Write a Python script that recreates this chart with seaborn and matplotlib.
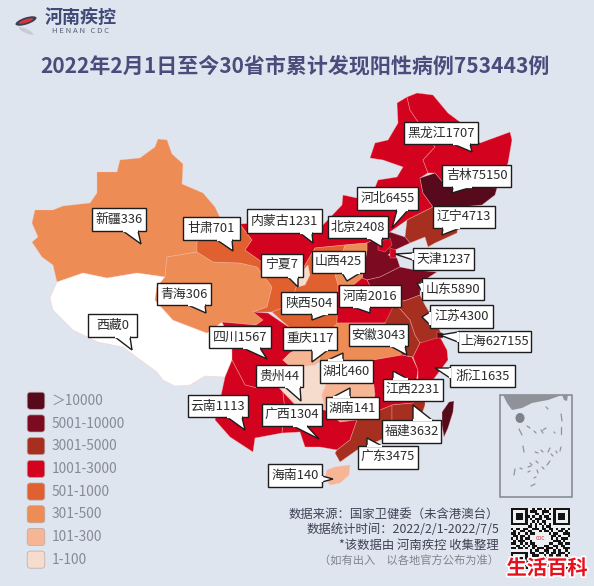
"""Mapa de casos acumulados por província (recriação do cartaz do Henan CDC)."""

import matplotlib
matplotlib.use("Agg")
import matplotlib.patheffects as pe
import matplotlib.pyplot as plt
import numpy as np
import pandas as pd
import seaborn as sns
from matplotlib.patches import Ellipse, FancyBboxPatch, Polygon

BG = "#dfe5ef"
TITLE = "2022年2月1日至今30省市累计发现阳性病例753443例"

# Dados
PROVINCES = ["新疆", "西藏", "青海", "甘肃", "内蒙古", "黑龙江", "吉林", "辽宁", "河北", "北京", "天津",
             "山西", "陕西", "宁夏", "山东", "河南", "四川", "云南", "重庆", "贵州", "湖北", "湖南",
             "广西", "广东", "江西", "福建", "安徽", "江苏", "上海", "浙江", "海南", "台湾"]
CASES = [336, 0, 306, 701, 1231, 1707, 75150, 4713, 6455, 2408, 1237,
         425, 504, 7, 5890, 2016, 1567, 1113, 117, 44, 460, 141,
         1304, 3475, 2231, 3632, 3043, 4300, 627155, 1635, 140, 20000]
BIN_EDGES = [0, 100, 300, 500, 1000, 3000, 5000, 10000, np.inf]
LEGEND_LABELS = ["＞10000", "5001-10000", "3001-5000", "1001-3000", "501-1000", "301-500", "101-300", "1-100"]
LEGEND_COLORS = ["#560a1c", "#7c0a20", "#a62f20", "#d3031f", "#e0602f", "#ee8c55", "#f6b595", "#f5dccd"]
SOURCE_LINES = ["数据来源：国家卫健委（未含港澳台）", "数据统计时间：2022/2/1-2022/7/5", "*该数据由 河南疾控 收集整理"]
NOTE_LINE = "（如有出入　以各地官方公布为准）"

# Contornos aproximados das províncias, em pixels da imagem
OUTLINES = {
    "新疆": [(35, 210), (53, 210), (63, 206), (90, 203), (97, 193), (97, 172), (117, 172), (120, 160), (140, 158),
           (155, 147), (158, 139), (167, 140), (172, 154), (183, 164), (182, 184), (203, 193), (215, 207),
           (222, 222), (197, 242), (197, 252), (167, 257), (165, 277), (137, 273), (107, 278), (83, 273),
           (57, 282), (53, 265), (42, 257), (32, 242), (38, 237), (32, 223)],
    "西藏": [(57, 282), (83, 273), (107, 278), (137, 273), (165, 277), (157, 287), (155, 300), (173, 320), (207, 333),
           (222, 322), (232, 343), (232, 360), (225, 377), (205, 376), (190, 385), (175, 386), (163, 380),
           (157, 372), (123, 347), (98, 342), (73, 330), (53, 310), (50, 298)],
    "青海": [(165, 277), (167, 257), (197, 252), (213, 262), (240, 263), (257, 267), (272, 287), (267, 307),
           (253, 312), (263, 320), (256, 325), (222, 322), (207, 333), (173, 320), (155, 300), (157, 287)],
    "甘肃": [(197, 242), (222, 222), (240, 224), (252, 240), (245, 250), (262, 262), (275, 268), (295, 275),
           (297, 285), (290, 305), (272, 312), (253, 312), (267, 307), (272, 287), (257, 267), (240, 263),
           (213, 262), (197, 252)],
    "内蒙古": [(240, 224), (270, 222), (300, 228), (320, 228), (342, 205), (343, 195), (357, 198), (372, 195),
            (378, 180), (397, 177), (403, 167), (383, 160), (370, 158), (375, 143), (388, 140), (398, 123),
            (397, 103), (407, 97), (410, 110), (435, 147), (423, 160), (428, 173), (420, 178), (423, 193),
            (433, 207), (407, 220), (390, 232), (367, 243), (345, 245), (315, 248), (305, 265), (295, 275),
            (275, 268), (262, 262), (245, 250), (252, 240)],
    "黑龙江": [(407, 97), (417, 93), (433, 95), (448, 113), (460, 122), (480, 143), (510, 132), (512, 140),
            (508, 163), (497, 188), (445, 185), (435, 173), (428, 173), (423, 160), (435, 147), (410, 110)],
    "吉林": [(420, 178), (435, 173), (445, 185), (497, 188), (495, 195), (482, 205), (460, 207), (433, 207), (423, 193)],
    "辽宁": [(407, 220), (433, 207), (460, 207), (457, 233), (435, 243), (428, 247), (425, 237), (410, 243), (405, 237)],
    "河北": [(367, 243), (390, 232), (405, 237), (410, 243), (395, 250), (388, 255), (397, 258), (400, 267),
           (380, 277), (367, 280), (362, 278), (367, 250)],
    "北京": [(378, 242), (390, 238), (392, 245), (385, 252), (378, 250)],
    "天津": [(390, 248), (396, 250), (396, 258), (390, 258)],
    "山西": [(345, 245), (367, 243), (367, 250), (362, 280), (350, 288), (338, 285), (335, 275)],
    "陕西": [(315, 248), (345, 245), (335, 275), (338, 285), (337, 325), (318, 345), (300, 348), (290, 328), (272, 312),
           (290, 305), (297, 285), (305, 265)],
    "宁夏": [(300, 273), (308, 265), (310, 275), (305, 285), (298, 287)],
    "山东": [(367, 280), (380, 277), (400, 267), (415, 270), (437, 272), (420, 283), (420, 295), (407, 300),
           (395, 303), (375, 296)],
    "河南": [(338, 285), (350, 288), (362, 278), (367, 280), (375, 296), (395, 303), (400, 315), (385, 323), (337, 323)],
    "四川": [(222, 322), (256, 325), (263, 320), (253, 312), (268, 313), (290, 328), (300, 348), (290, 353),
           (283, 360), (292, 368), (280, 385), (270, 378), (257, 388), (245, 385), (232, 360), (232, 343)],
    "云南": [(232, 360), (245, 385), (257, 388), (270, 378), (283, 392), (285, 410), (282, 433), (255, 438),
           (253, 452), (230, 437), (215, 420), (220, 400), (225, 377)],
    "重庆": [(290, 353), (300, 348), (318, 345), (320, 362), (315, 365), (292, 368), (283, 360)],
    "贵州": [(280, 385), (292, 368), (315, 365), (330, 375), (322, 395), (325, 410), (300, 410), (283, 392)],
    "湖北": [(337, 323), (385, 323), (395, 345), (402, 355), (373, 360), (372, 367), (345, 365), (320, 362), (318, 345)],
    "湖南": [(320, 362), (345, 365), (372, 367), (375, 395), (372, 405), (380, 410), (357, 420), (340, 422),
           (325, 410), (322, 395), (330, 375)],
    "广西": [(283, 392), (300, 410), (325, 410), (340, 422), (357, 420), (350, 440), (337, 450), (320, 447),
           (305, 447), (300, 432), (282, 433), (285, 410)],
    "广东": [(357, 420), (380, 410), (392, 405), (392, 428), (385, 438), (357, 450), (340, 462), (335, 453),
           (337, 450), (350, 440)],
    "江西": [(373, 360), (402, 355), (412, 357), (418, 370), (413, 403), (392, 405), (380, 410), (372, 405),
           (375, 395), (372, 367)],
    "福建": [(392, 405), (413, 403), (418, 385), (425, 390), (425, 405), (420, 420), (400, 432), (392, 428)],
    "安徽": [(385, 323), (395, 303), (410, 320), (415, 335), (420, 343), (413, 357), (402, 355), (395, 345)],
    "江苏": [(395, 303), (407, 300), (420, 295), (425, 305), (437, 325), (442, 335), (435, 342), (420, 343),
           (415, 335), (410, 320)],
    "浙江": [(413, 357), (420, 343), (440, 337), (447, 350), (448, 360), (433, 380), (425, 390), (418, 385), (418, 370)],
    "上海": [(437, 332), (443, 333), (443, 338), (437, 338)],
    "海南": [(327, 470), (335, 467), (350, 465), (349, 475), (340, 483), (330, 485), (325, 478)],
    "台湾": [(442, 412), (449, 402), (454, 401), (453, 412), (448, 428), (444, 437), (442, 425)],
}

# Caixas de rótulo: (x0, y0, x1, y1, ponta, base da seta)
CALLOUTS = [
    ("新疆336", (92, 208, 146, 231), (141, 244), [(123, 231), (138, 231)]),
    ("甘肃701", (183, 217, 240, 240), (233, 251), [(217, 240), (232, 240)]),
    ("内蒙古1231", (247, 209, 322, 233), (313, 243), [(300, 233), (312, 233)]),
    ("宁夏7", (261, 254, 303, 277), (298, 287), [(288, 277), (298, 277)]),
    ("山西425", (312, 251, 365, 273), (347, 281), [(342, 273), (360, 273)]),
    ("北京2408", (328, 216, 388, 238), (382, 247), [(367, 238), (382, 238)]),
    ("河北6455", (357, 187, 418, 210), (392, 228), [(397, 210), (408, 210)]),
    ("黑龙江1707", (404, 122, 478, 144), (472, 152), [(453, 144), (470, 144)]),
    ("吉林75150", (442, 165, 511, 187), (452, 193), [(453, 187), (472, 187)]),
    ("辽宁4713", (433, 206, 495, 228), (442, 235), [(443, 228), (460, 228)]),
    ("天津1237", (413, 248, 474, 270), (395, 254), [(413, 253), (413, 260)]),
    ("山东5890", (422, 278, 484, 300), (417, 283), [(422, 283), (422, 292)]),
    ("江苏4300", (430, 305, 493, 328), (422, 317), [(430, 312), (430, 325)]),
    ("上海627155", (458, 331, 531, 352), (440, 335), [(458, 332), (458, 342)]),
    ("浙江1635", (450, 365, 515, 387), (435, 368), [(450, 368), (450, 378)]),
    ("陕西504", (281, 292, 337, 314), (312, 320), [(312, 314), (328, 314)]),
    ("河南2016", (339, 285, 401, 307), (370, 313), [(353, 307), (370, 307)]),
    ("四川1567", (209, 326, 271, 348), (267, 359), [(243, 348), (260, 348)]),
    ("重庆117", (283, 327, 337, 350), (312, 362), [(312, 350), (328, 350)]),
    ("安徽3043", (349, 324, 408, 346), (407, 355), [(390, 346), (405, 346)]),
    ("贵州44", (256, 365, 303, 387), (301, 401), [(285, 387), (300, 387)]),
    ("湖北460", (320, 360, 373, 383), (343, 353), [(328, 360), (343, 360)]),
    ("湖南141", (326, 397, 379, 419), (350, 388), [(333, 397), (350, 397)]),
    ("广西1304", (262, 404, 322, 426), (319, 439), [(293, 426), (307, 426)]),
    ("云南1113", (188, 395, 248, 417), (245, 430), [(227, 417), (242, 417)]),
    ("江西2231", (383, 379, 443, 401), (393, 371), [(393, 379), (408, 379)]),
    ("福建3632", (382, 420, 441, 443), (413, 405), [(413, 420), (432, 420)]),
    ("广东3475", (358, 446, 418, 469), (367, 438), [(367, 446), (382, 446)]),
    ("海南140", (268, 464, 322, 487), (333, 479), [(322, 476), (322, 482)]),
    ("青海306", (157, 283, 211, 305), (206, 313), [(188, 305), (205, 305)]),
    ("西藏0", (88, 314, 137, 337), (132, 350), [(115, 337), (130, 337)]),
]

# Ilhas do mapa pequeno (mar do sul)
INSET_LAND = [(503, 395), (562, 395), (548, 400), (532, 403), (522, 408), (512, 410), (507, 403)]
INSET_TAIWAN = [(562, 395), (568, 395), (567, 401), (564, 400)]
INSET_STROKES = [
    ((519, 429), (522, 435)), ((523, 446), (524, 452)), ((515, 469), (514, 475)), ((550, 448), (548, 452)),
    ((561, 414), (562, 421)), ((561, 427), (561, 434)), ((561, 447), (560, 451)), ((547, 465), (550, 461)),
    ((535, 484), (531, 486)), ((528, 472), (530, 471)), ((527, 426), (530, 428)), ((541, 430), (543, 433)),
    ((535, 452), (538, 453)), ((541, 450), (543, 452)), ((551, 454), (553, 456)), ((530, 463), (532, 465)),
    ((536, 461), (538, 463)), ((542, 467), (544, 469)), ((537, 470), (538, 473)), ((546, 428), (543, 430)),
    ((554, 432), (555, 433)), ((546, 407), (548, 409)), ((534, 431), (536, 433)), ((528, 467), (531, 466)),
    ((534, 478), (536, 477)), ((520, 468), (522, 469)), ((556, 451), (557, 453)),
]

# Código QR desenhado com heatmap (1 = preto)
QR_ROWS = [
    "1111111001011010101111111",
    "1000001011100111001000001",
    "1011101000110100101011101",
    "1011101101001011001011101",
    "1011101010111001101011101",
    "1000001001010110001000001",
    "1111111010101010101111111",
    "0000000110100101100000000",
    "1011011001110110110101101",
    "0100110110001011010011010",
    "1101001011000000101100111",
    "0110110100000000011010001",
    "1010101100000000010101110",
    "0101110010000000001110100",
    "1100101011000000110011011",
    "0011010101100011001101100",
    "1101101001011101110100111",
    "0000000010110011001010010",
    "1111111011001101011011101",
    "1000001001110010110110010",
    "1011101010011011001001101",
    "1011101101100101011010110",
    "1011101010101110100101011",
    "1000001001011001011011001",
    "1111111010110110100110110",
]

sns.set_theme(style="white")
plt.rcParams["font.family"] = ["Noto Sans CJK SC", "DejaVu Sans"]

df = pd.DataFrame({"province": PROVINCES, "cases": CASES})
palette = sns.color_palette(LEGEND_COLORS[::-1])
df["bin"] = pd.cut(df["cases"], bins=BIN_EDGES, labels=False, include_lowest=False)
color_by_province = {}
for _, row in df.iterrows():
    color_by_province[row["province"]] = "#ffffff" if row["cases"] == 0 else palette[int(row["bin"])]

fig = plt.figure(figsize=(5.94, 5.86), dpi=100, facecolor=BG)
ax = fig.add_axes([0, 0, 1, 1])
ax.set_xlim(0, 594)
ax.set_ylim(586, 0)
ax.set_facecolor(BG)
ax.axis("off")

# Províncias
for name, outline in OUTLINES.items():
    ax.add_patch(Polygon(outline, closed=True, facecolor=color_by_province[name],
                         edgecolor=(1, 0.75, 0.7, 0.45), linewidth=0.5, joinstyle="round", zorder=2))

# Rótulos com seta
for text, (x0, y0, x1, y1), tip, base in CALLOUTS:
    ax.add_patch(Polygon([(x0, y0), (x1, y0), (x1, y1), (x0, y1)], closed=True, facecolor="white",
                         edgecolor="#1c1c1c", linewidth=1.0, zorder=4))
    ax.add_patch(Polygon([base[0], tip, base[1]], closed=True, facecolor="white",
                         edgecolor="#1c1c1c", linewidth=1.0, zorder=4))
    ax.plot([base[0][0], base[1][0]], [base[0][1], base[1][1]], color="white", lw=1.6, zorder=5,
            solid_capstyle="butt")
    ax.text((x0 + x1) / 2, (y0 + y1) / 2, text, ha="center", va="center", fontsize=9.3,
            color="#2b2b2b", zorder=6)

# Título e logotipo
ax.text(295, 66, TITLE, ha="center", va="center", fontsize=15.1, fontweight="bold", color="#4a4c7c")
ax.text(81, 17, "河南疾控", ha="center", va="center", fontsize=13, fontweight="bold", color="#3f4a78")
ax.text(81, 31, "H E N A N   C D C", ha="center", va="center", fontsize=5.6, color="#5a6075")
ax.add_patch(Ellipse((26, 21), 22, 7, angle=-18, facecolor="#3a3f55", edgecolor="none", zorder=3))
ax.add_patch(Ellipse((26, 21), 15, 3.5, angle=-18, facecolor="#d8353a", edgecolor="none", zorder=3))
ax.add_patch(Ellipse((26, 31), 16, 4, angle=25, facecolor="#c9ccd6", edgecolor="none", zorder=3))

# Legenda
for i, (label, color) in enumerate(zip(LEGEND_LABELS, LEGEND_COLORS)):
    y = 392 + i * 22.7
    ax.add_patch(FancyBboxPatch((28, y + 1), 16, 15.5, boxstyle="round,pad=0.8,rounding_size=3",
                                facecolor=color, edgecolor="#b8a9a5", linewidth=0.5, zorder=3))
    ax.text(51.5, y + 9, label, ha="left", va="center", fontsize=9.9, color="#858a99")

# Mapa pequeno
ax.add_patch(Polygon([(500, 395), (572, 395), (572, 497), (500, 497)], closed=True, facecolor=BG,
                     edgecolor="#80858f", linewidth=1.1, zorder=2))
ax.add_patch(Polygon(INSET_LAND, closed=True, facecolor="#8f9298", edgecolor="none", zorder=3))
ax.add_patch(Polygon(INSET_TAIWAN, closed=True, facecolor="#8f9298", edgecolor="none", zorder=3))
ax.add_patch(Ellipse((520, 418), 9, 10, facecolor="#7f8288", edgecolor="none", zorder=3))
for p0, p1 in INSET_STROKES:
    ax.plot([p0[0], p1[0]], [p0[1], p1[1]], color="#8f949c", lw=0.9, zorder=3)

# Fonte dos dados
for text, y in zip(SOURCE_LINES, [514, 529.5, 545]):
    ax.text(499, y, text, ha="right", va="center", fontsize=8.9, color="#3e4256")
ax.text(499, 561, NOTE_LINE, ha="right", va="center", fontsize=8.1, color="#80848f")

# QR
qr_matrix = np.array([[int(c) for c in row] for row in QR_ROWS])
qr_ax = fig.add_axes([511 / 594, 1 - 569 / 586, 59 / 594, 61 / 586])
sns.heatmap(qr_matrix, ax=qr_ax, cmap=["#eef0f4", "#141414"], cbar=False, xticklabels=False,
            yticklabels=False, linewidths=0)
qr_ax.text(12.5, 12.5, "CDC", ha="center", va="center", fontsize=3.5, color="#c8333a")

# Marca d'água
ax_top = fig.add_axes([0, 0, 1, 1], facecolor="none")
ax_top.set_xlim(0, 594)
ax_top.set_ylim(586, 0)
ax_top.axis("off")
ax_top.text(547, 568, "生活百科", ha="center", va="center", fontsize=14.6, fontweight="bold", color="#e8101c",
            path_effects=[pe.withStroke(linewidth=2.5, foreground="white")])

fig.savefig("out.png", dpi=100, facecolor=BG)
plt.close(fig)
